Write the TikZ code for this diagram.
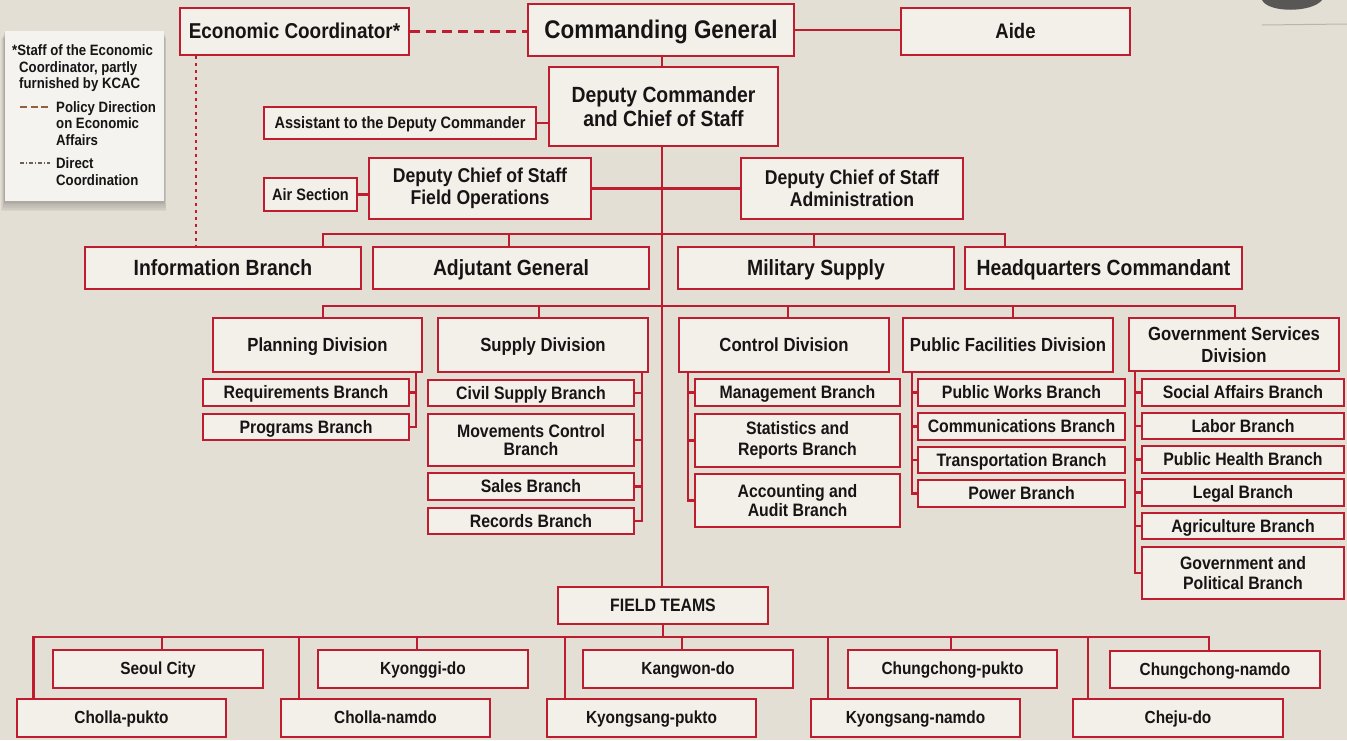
\documentclass[tikz,border=0pt]{standalone}
\usepackage{fontspec}
\setmainfont{Liberation Sans}[FakeStretch=0.88]
\definecolor{bg}{RGB}{228,223,213}
\definecolor{boxfill}{RGB}{243,240,234}
\definecolor{cred}{RGB}{192,28,48}
\definecolor{txt}{RGB}{22,20,20}
\definecolor{legfill}{RGB}{245,243,239}
\definecolor{brownc}{RGB}{150,95,55}
\definecolor{graybrown}{RGB}{110,95,80}
\newcommand\fsz[2]{\fontsize{#1}{#2}\selectfont}
% multi-line box: name, x1,y1,x2,y2, size, baselineskip, text
\newcommand\boxtwo[8]{%
  \pgfmathsetmacro\bxw{#4-#2}\pgfmathsetmacro\bxh{#5-#3}%
  \pgfmathsetmacro\bxx{(#2+#4)/2}\pgfmathsetmacro\bxy{(#3+#5)/2}%
  \node[box,font=\bfseries\fsz{#6}{#7},minimum width=\bxw pt,minimum height=\bxh pt] (#1) at (\bxx,\bxy) {#8};}
% single-line box: name, x1,y1,x2,y2, size, text
\newcommand\boxone[7]{%
  \pgfmathsetmacro\bxw{#4-#2}\pgfmathsetmacro\bxh{#5-#3}%
  \pgfmathsetmacro\bxx{(#2+#4)/2}\pgfmathsetmacro\bxy{(#3+#5)/2}%
  \pgfmathsetmacro\bth{0.70*#6}\pgfmathsetmacro\btd{0.02*#6}%
  \node[box,font=\bfseries\fsz{#6}{#6},text height=\bth pt,text depth=\btd pt,minimum width=\bxw pt,minimum height=\bxh pt] (#1) at (\bxx,\bxy) {#7};}
\begin{document}
\begin{tikzpicture}[x=1pt,y=-1pt,
  box/.style={draw=cred,line width=2pt,fill=boxfill,inner sep=0pt,align=center,text=txt},
  conn/.style={draw=cred,line width=2.2pt},
  legtxt/.style={anchor=west,inner sep=0pt,text=txt,font=\bfseries\fsz{15}{16},text height=10.5pt,text depth=0.3pt}]
\useasboundingbox (0,0) rectangle (1347,740);
\fill[bg] (0,0) rectangle (1347,740);
% smudge top right
\fill[black!75,opacity=.85] (1262,0) .. controls (1268,13) and (1312,13) .. (1322,0) -- cycle;
\draw[black!45,opacity=.5,line width=1pt] (1262,25) -- (1347,24);

% ---------- legend ----------
\foreach \s in {1,...,6} \fill[black,opacity=0.045] (5-0.6*\s,31+1.2*\s) rectangle (164+0.4*\s,201+1.7*\s);
\node[fill=legfill,minimum width=159pt,minimum height=170pt,inner sep=0pt] (legend) at (84.5,116) {};
\node[legtxt] (l1) at (12,50) {*Staff of the Economic};
\node[legtxt] (l2) at (19,67) {Coordinator, partly};
\node[legtxt] (l3) at (19,83) {furnished by KCAC};
\coordinate (la1) at (20,107); \coordinate (la2) at (50,107);
\draw[brownc,line width=2pt,dash pattern=on 7pt off 3.5pt] (la1) -- (la2);
\node[legtxt] (l4) at (56,107) {Policy Direction};
\node[legtxt] (l5) at (56,123) {on Economic};
\node[legtxt] (l6) at (56,140) {Affairs};
\coordinate (lb1) at (20,163); \coordinate (lb2) at (50,163);
\draw[graybrown,line width=1.1pt,dash pattern=on 4pt off 2pt on 1pt off 2pt] (lb1) -- (lb2);
\node[legtxt] (l7) at (56,163) {Direct};
\node[legtxt] (l8) at (56,180) {Coordination};

% ---------- top ----------
\boxone{econ}{180}{8}{409}{55}{21.5}{Economic Coordinator*}
\boxone{cg}{528}{4}{794}{56}{25.5}{Commanding General}
\boxone{aide}{901}{8}{1130}{55}{21}{Aide}
\boxtwo{dc}{549}{67}{778}{146}{22}{24}{Deputy Commander\\and Chief of Staff}
\boxone{asst}{264}{107}{536}{139}{16.5}{Assistant to the Deputy Commander}
\boxone{air}{264}{178}{357}{211}{16.5}{Air Section}
\boxtwo{fo}{369}{158}{591}{219}{20}{22}{Deputy Chief of Staff\\Field Operations}
\boxtwo{adm}{741}{158}{963}{219}{20}{22}{Deputy Chief of Staff\\Administration}

% ---------- row 2 ----------
\boxone{info}{85}{247}{361}{289}{22}{Information Branch}
\boxone{adj}{373}{247}{649}{289}{22}{Adjutant General}
\boxone{ms}{678}{247}{954}{289}{22}{Military Supply}
\boxone{hq}{965}{247}{1242}{289}{22}{Headquarters Commandant}

% ---------- divisions ----------
\boxone{plan}{213}{318}{422}{372}{19}{Planning Division}
\boxone{sup}{438}{318}{648}{372}{19}{Supply Division}
\boxone{ctl}{679}{318}{889}{372}{19}{Control Division}
\boxone{pf}{903}{318}{1113}{372}{19}{Public Facilities Division}
\boxtwo{gs}{1129}{318}{1339}{371}{19}{22}{Government Services\\Division}

% ---------- branches ----------
\boxone{req}{203}{379}{409}{406}{18}{Requirements Branch}
\boxone{prog}{203}{414}{409}{440}{18}{Programs Branch}
\boxone{civ}{428}{380}{634}{406}{18}{Civil Supply Branch}
\boxtwo{mov}{428}{414}{634}{466}{18}{18}{Movements Control\\Branch}
\boxone{sal}{428}{473}{634}{500}{18}{Sales Branch}
\boxone{rec}{428}{508}{634}{534}{18}{Records Branch}
\boxone{mgmt}{695}{379}{900}{406}{18}{Management Branch}
\boxtwo{stat}{695}{414}{900}{467}{18}{21}{Statistics and\\Reports Branch}
\boxtwo{acc}{695}{474}{900}{527}{18}{19}{Accounting and\\Audit Branch}
\boxone{pw}{918}{379}{1125}{406}{18}{Public Works Branch}
\boxone{com}{918}{413}{1125}{440}{18}{Communications Branch}
\boxone{tra}{918}{447}{1125}{473}{18}{Transportation Branch}
\boxone{pow}{918}{480}{1125}{507}{18}{Power Branch}
\boxone{soc}{1142}{379}{1344}{406}{18}{Social Affairs Branch}
\boxone{lab}{1142}{413}{1344}{439}{18}{Labor Branch}
\boxone{ph}{1142}{446}{1344}{473}{18}{Public Health Branch}
\boxone{leg}{1142}{479}{1344}{506}{18}{Legal Branch}
\boxone{agr}{1142}{513}{1344}{539}{18}{Agriculture Branch}
\boxtwo{gp}{1142}{547}{1344}{599}{18}{20}{Government and\\Political Branch}

% ---------- field teams ----------
\boxone{ft}{558}{587}{768}{624}{18}{FIELD TEAMS}
\boxone{seoul}{53}{650}{263}{688}{17.5}{Seoul City}
\boxone{kyg}{318}{650}{528}{688}{17.5}{Kyonggi-do}
\boxone{kan}{583}{650}{793}{688}{17.5}{Kangwon-do}
\boxone{ccp}{848}{650}{1057}{688}{17.5}{Chungchong-pukto}
\boxone{ccn}{1110}{651}{1320}{688}{17.5}{Chungchong-namdo}
\boxone{clp}{17}{699}{226}{737}{17.5}{Cholla-pukto}
\boxone{cln}{281}{699}{490}{737}{17.5}{Cholla-namdo}
\boxone{ksp}{547}{699}{756}{737}{17.5}{Kyongsang-pukto}
\boxone{ksn}{811}{699}{1020}{737}{17.5}{Kyongsang-namdo}
\boxone{chj}{1073}{699}{1283}{737}{17.5}{Cheju-do}

% ---------- connectors: top ----------
\coordinate (mv) at (662,0);
\coordinate (ed) at (196,0);
\draw[conn,dash pattern=on 10pt off 6pt] (econ.east) -- (econ.east -| cg.west);
\draw[conn,dash pattern=on 3pt off 4pt] (econ.south -| ed) -- (info.north -| ed);
\draw[conn] (cg.east) -- (cg.east -| aide.west);
\draw[conn] (cg.south -| mv) -- (dc.north -| mv);
\draw[conn] (asst.east) -- (asst.east -| dc.west);
\draw[conn] (air.east) -- (air.east -| fo.west);
\draw[conn] (fo.east) -- (fo.east -| adm.west);
\draw[conn] (dc.south -| mv) -- (ft.north -| mv);

% row 2 bus
\coordinate (r2a) at (323,234); \coordinate (r2b) at (509,234);
\coordinate (r2c) at (814,234); \coordinate (r2d) at (1005,234);
\draw[conn] (info.north -| r2a) -- (r2a) -- (r2d) -- (hq.north -| r2d);
\draw[conn] (r2b) -- (adj.north -| r2b);
\draw[conn] (r2c) -- (ms.north -| r2c);

% row 3 bus
\coordinate (r3a) at (323,306); \coordinate (r3b) at (539,306);
\coordinate (r3c) at (788,306); \coordinate (r3d) at (1013,306);
\coordinate (r3e) at (1235,306);
\draw[conn] (plan.north -| r3a) -- (r3a) -- (r3e) -- (gs.north -| r3e);
\draw[conn] (r3b) -- (sup.north -| r3b);
\draw[conn] (r3c) -- (ctl.north -| r3c);
\draw[conn] (r3d) -- (pf.north -| r3d);

% brackets
\coordinate (bp) at (416,0);
\draw[conn] (plan.south -| bp) -- (prog.east -| bp) -- (prog.east);
\draw[conn] (req.east) -- (req.east -| bp);
\coordinate (bs) at (642,0);
\draw[conn] (sup.south -| bs) -- (rec.east -| bs) -- (rec.east);
\draw[conn] (civ.east) -- (civ.east -| bs);
\draw[conn] (mov.east) -- (mov.east -| bs);
\draw[conn] (sal.east) -- (sal.east -| bs);
\coordinate (bc) at (688,0);
\draw[conn] (ctl.south -| bc) -- (acc.west -| bc) -- (acc.west);
\draw[conn] (mgmt.west) -- (mgmt.west -| bc);
\draw[conn] (stat.west) -- (stat.west -| bc);
\coordinate (bf) at (912,0);
\draw[conn] (pf.south -| bf) -- (pow.west -| bf) -- (pow.west);
\draw[conn] (pw.west) -- (pw.west -| bf);
\draw[conn] (com.west) -- (com.west -| bf);
\draw[conn] (tra.west) -- (tra.west -| bf);
\coordinate (bg) at (1135,0);
\draw[conn] (gs.south -| bg) -- (gp.west -| bg) -- (gp.west);
\foreach \n in {soc,lab,ph,leg,agr} \draw[conn] (\n.west) -- (\n.west -| bg);

% field teams bus
\coordinate (fa) at (33.5,637); \coordinate (fz) at (1209,637);
\draw[conn] (ft.south) -- (ft.south |- fa);
\draw[conn] (clp.north -| fa) -- (fa) -- (fz) -- (ccn.north -| fz);
\coordinate (u1) at (162,637); \coordinate (u2) at (417,637);
\coordinate (u3) at (682,637); \coordinate (u4) at (951,637);
\draw[conn] (u1) -- (seoul.north -| u1);
\draw[conn] (u2) -- (kyg.north -| u2);
\draw[conn] (u3) -- (kan.north -| u3);
\draw[conn] (u4) -- (ccp.north -| u4);
\coordinate (d2) at (299,637); \coordinate (d3) at (565,637);
\coordinate (d4) at (828,637); \coordinate (d5) at (1088,637);
\draw[conn] (d2) -- (cln.north -| d2);
\draw[conn] (d3) -- (ksp.north -| d3);
\draw[conn] (d4) -- (ksn.north -| d4);
\draw[conn] (d5) -- (chj.north -| d5);
\end{tikzpicture}
\end{document}
